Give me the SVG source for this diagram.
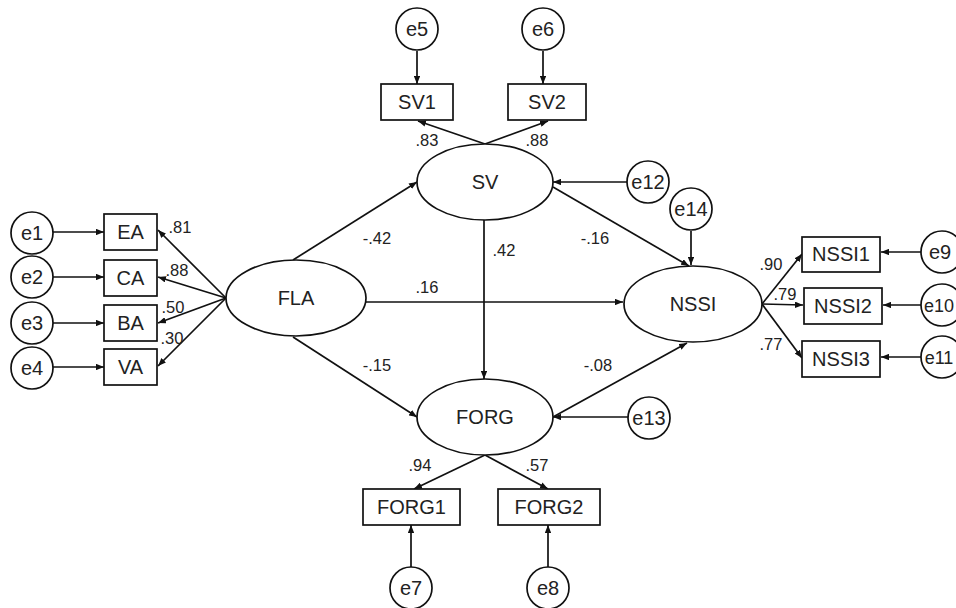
<svg xmlns="http://www.w3.org/2000/svg" width="956" height="608" viewBox="0 0 956 608">
<defs>
<marker id="ah" viewBox="0 0 10 8" refX="10" refY="4" markerWidth="8" markerHeight="6.5" markerUnits="userSpaceOnUse" orient="auto">
<path d="M0,0 L10,4 L0,8 z" fill="#111"/>
</marker>
<style>
.shape{fill:#fff;stroke:#111;stroke-width:1.7}
.lbl{font-family:"Liberation Sans",Arial,sans-serif;font-size:20px;fill:#222;text-anchor:middle}
.lbl.edge{font-size:18px}
.coef{font-family:"Liberation Sans",Arial,sans-serif;font-size:16.5px;fill:#222;text-anchor:middle}
.conn line{stroke:#111;stroke-width:1.7;marker-end:url(#ah)}
</style>
</defs>
<rect width="956" height="608" fill="#fff"/>

<g id="connectors" class="conn">
<line x1="53" y1="232" x2="104" y2="232"/>
<line x1="53" y1="277" x2="104" y2="277"/>
<line x1="53" y1="323" x2="104" y2="323"/>
<line x1="53" y1="367" x2="104" y2="367"/>
<line x1="417" y1="51" x2="417" y2="84"/>
<line x1="543" y1="51" x2="543" y2="84"/>
<line x1="411" y1="567" x2="411" y2="525"/>
<line x1="548" y1="567" x2="548" y2="525"/>
<line x1="921" y1="252" x2="881" y2="252"/>
<line x1="921" y1="305" x2="883" y2="305"/>
<line x1="921" y1="357" x2="881" y2="357"/>
<line x1="627" y1="182" x2="553" y2="182"/>
<line x1="628" y1="417" x2="553" y2="417"/>
<line x1="691" y1="231" x2="691" y2="265"/>
<line x1="226" y1="298" x2="158" y2="230"/>
<line x1="226" y1="298" x2="158" y2="277"/>
<line x1="226" y1="298" x2="158" y2="323"/>
<line x1="226" y1="298" x2="158" y2="366"/>
<line x1="485" y1="144" x2="418" y2="121"/>
<line x1="485" y1="144" x2="548" y2="121"/>
<line x1="485" y1="455" x2="414" y2="489"/>
<line x1="485" y1="455" x2="548" y2="489"/>
<line x1="762" y1="304" x2="802" y2="254"/>
<line x1="762" y1="304" x2="803" y2="305"/>
<line x1="762" y1="304" x2="802" y2="358"/>
<line x1="293" y1="260" x2="417" y2="182"/>
<line x1="293" y1="337" x2="417" y2="417"/>
<line x1="366" y1="302" x2="623" y2="302"/>
<line x1="484" y1="220" x2="484" y2="379"/>
<line x1="553" y1="187" x2="689" y2="266"/>
<line x1="553" y1="417" x2="687" y2="343"/>
</g>

<g id="FLA"><ellipse class="shape" cx="296" cy="298" rx="70" ry="38"/><text class="lbl" x="296" y="305">FLA</text></g>
<g id="SV"><ellipse class="shape" cx="485" cy="182" rx="68" ry="38"/><text class="lbl" x="485" y="189">SV</text></g>
<g id="FORG"><ellipse class="shape" cx="485" cy="417" rx="68" ry="38"/><text class="lbl" x="485" y="424">FORG</text></g>
<g id="NSSI"><ellipse class="shape" cx="693" cy="304" rx="69" ry="38"/><text class="lbl" x="693" y="311">NSSI</text></g>

<g id="EA"><rect class="shape" x="104" y="214" width="53" height="36"/><text class="lbl" x="130.5" y="239">EA</text></g>
<g id="CA"><rect class="shape" x="104" y="260" width="53" height="36"/><text class="lbl" x="130.5" y="285">CA</text></g>
<g id="BA"><rect class="shape" x="104" y="305" width="53" height="36"/><text class="lbl" x="130.5" y="330">BA</text></g>
<g id="VA"><rect class="shape" x="104" y="349" width="53" height="36"/><text class="lbl" x="130.5" y="374">VA</text></g>
<g id="SV1"><rect class="shape" x="381" y="84" width="72" height="36"/><text class="lbl" x="417" y="109">SV1</text></g>
<g id="SV2"><rect class="shape" x="508" y="84" width="78" height="36"/><text class="lbl" x="547" y="109">SV2</text></g>
<g id="FORG1"><rect class="shape" x="363" y="489" width="97" height="36"/><text class="lbl" x="411.5" y="514">FORG1</text></g>
<g id="FORG2"><rect class="shape" x="498" y="489" width="102" height="36"/><text class="lbl" x="549" y="514">FORG2</text></g>
<g id="NSSI1"><rect class="shape" x="802" y="237" width="78" height="35"/><text class="lbl" x="841" y="261">NSSI1</text></g>
<g id="NSSI2"><rect class="shape" x="804" y="288" width="78" height="36"/><text class="lbl" x="843" y="313">NSSI2</text></g>
<g id="NSSI3"><rect class="shape" x="802" y="341" width="78" height="36"/><text class="lbl" x="841" y="366">NSSI3</text></g>

<g id="e1"><circle class="shape" cx="32" cy="233" r="21"/><text class="lbl" x="32" y="240">e1</text></g>
<g id="e2"><circle class="shape" cx="32" cy="277" r="21"/><text class="lbl" x="32" y="284">e2</text></g>
<g id="e3"><circle class="shape" cx="32" cy="323" r="21"/><text class="lbl" x="32" y="330">e3</text></g>
<g id="e4"><circle class="shape" cx="32" cy="368" r="21"/><text class="lbl" x="32" y="375">e4</text></g>
<g id="e5"><circle class="shape" cx="417" cy="29" r="21"/><text class="lbl" x="417" y="36">e5</text></g>
<g id="e6"><circle class="shape" cx="543" cy="29" r="21"/><text class="lbl" x="543" y="36">e6</text></g>
<g id="e7"><circle class="shape" cx="411" cy="588" r="21"/><text class="lbl" x="411" y="595">e7</text></g>
<g id="e8"><circle class="shape" cx="548" cy="588" r="21"/><text class="lbl" x="548" y="595">e8</text></g>
<g id="e9"><circle class="shape" cx="942" cy="252" r="21"/><text class="lbl" x="940" y="259">e9</text></g>
<g id="e10"><circle class="shape" cx="942" cy="305" r="21"/><text class="lbl edge" x="939" y="311.5">e10</text></g>
<g id="e11"><circle class="shape" cx="942" cy="357" r="21"/><text class="lbl edge" x="939" y="363.5">e11</text></g>
<g id="e12"><circle class="shape" cx="648" cy="182" r="21"/><text class="lbl" x="648" y="189">e12</text></g>
<g id="e13"><circle class="shape" cx="649" cy="418" r="21"/><text class="lbl" x="649" y="425">e13</text></g>
<g id="e14"><circle class="shape" cx="691" cy="209" r="21"/><text class="lbl" x="691" y="216">e14</text></g>

<g id="coefficients">
<text class="coef" x="180" y="233">.81</text>
<text class="coef" x="177" y="276">.88</text>
<text class="coef" x="173" y="313">.50</text>
<text class="coef" x="172" y="344">.30</text>
<text class="coef" x="427" y="146">.83</text>
<text class="coef" x="537" y="146">.88</text>
<text class="coef" x="420" y="471">.94</text>
<text class="coef" x="537" y="471">.57</text>
<text class="coef" x="771" y="270">.90</text>
<text class="coef" x="785" y="300">.79</text>
<text class="coef" x="771" y="350">.77</text>
<text class="coef" x="377" y="244">-.42</text>
<text class="coef" x="504" y="256">.42</text>
<text class="coef" x="595" y="244">-.16</text>
<text class="coef" x="427" y="293">.16</text>
<text class="coef" x="377" y="371">-.15</text>
<text class="coef" x="598" y="371">-.08</text>
</g>
</svg>
